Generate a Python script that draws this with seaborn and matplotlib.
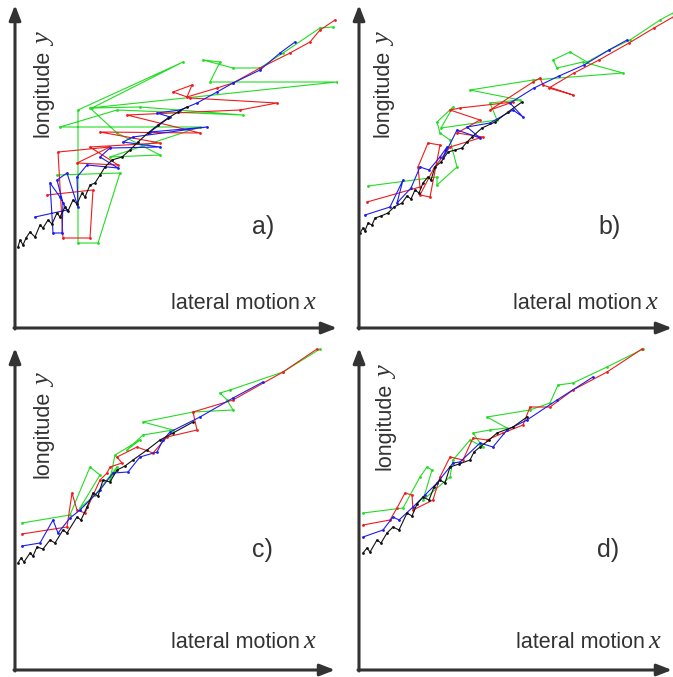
import pandas as pd
import matplotlib
matplotlib.use('Agg')
import matplotlib.pyplot as plt
import seaborn as sns

sns.set_style('white')
plt.rcParams['font.family'] = ['Liberation Sans', 'DejaVu Sans']

# trajectories, (lateral x, longitude y) per point
a_black = [(3, 81), (5, 88), (8, 83), (11, 90), (15, 96), (20, 91), (25, 103), (28, 100), (33, 108), (37, 104),
           (42, 115), (45, 111), (50, 121), (53, 117), (58, 128), (62, 124), (67, 135), (70, 131), (75, 143),
           (80, 145), (85, 153), (90, 161), (97, 168), (107, 171), (115, 178), (123, 186), (133, 195),
           (143, 203), (153, 210), (163, 216), (172, 221)]
a_blue = [(20, 111), (52, 118), (45, 131), (35, 145), (38, 95), (47, 95), (48, 125), (42, 148), (52, 155),
          (63, 121), (62, 151), (72, 163), (103, 160), (85, 171), (95, 180), (145, 181), (108, 186), (118, 191),
          (192, 201), (135, 196), (155, 211), (142, 215), (165, 218), (182, 225), (202, 236), (218, 245),
          (245, 258), (265, 275), (280, 286)]
a_red = [(32, 133), (78, 138), (75, 90), (48, 90), (43, 176), (95, 181), (62, 165), (103, 163), (75, 181),
         (145, 185), (85, 196), (185, 195), (112, 213), (225, 218), (262, 225), (175, 230), (158, 236),
         (177, 243), (172, 231), (202, 240), (218, 245), (245, 260), (275, 275), (295, 286), (305, 298),
         (320, 308)]
a_green = [(42, 153), (105, 155), (83, 85), (63, 85), (63, 218), (168, 266), (77, 220), (125, 221), (228, 213),
           (102, 218), (45, 201), (185, 201), (95, 171), (145, 173), (102, 195), (75, 220), (322, 246),
           (195, 246), (205, 266), (188, 268), (218, 260), (245, 260), (268, 275), (305, 300), (318, 301)]

b_black = [(1, 95), (4, 100), (6, 97), (9, 105), (13, 103), (16, 110), (22, 112), (29, 115), (35, 121),
           (43, 125), (48, 132), (52, 129), (56, 138), (60, 135), (64, 145), (69, 151), (72, 148), (76, 161),
           (82, 166), (89, 176), (96, 178), (103, 180), (108, 186), (113, 191), (123, 200), (136, 206),
           (149, 216), (163, 226)]
b_blue = [(6, 113), (31, 121), (44, 148), (38, 125), (52, 140), (61, 161), (70, 158), (81, 171), (88, 181),
          (84, 170), (98, 198), (121, 190), (108, 201), (131, 205), (154, 218), (164, 211), (151, 225),
          (175, 240), (200, 252), (225, 263), (250, 278), (268, 288)]
b_red = [(8, 126), (61, 141), (59, 161), (69, 185), (81, 183), (71, 131), (61, 133), (75, 160), (91, 181),
         (124, 191), (98, 195), (121, 208), (91, 218), (101, 220), (154, 226), (131, 218), (174, 246),
         (181, 250), (184, 243), (214, 233), (190, 240), (215, 255), (240, 268), (270, 285), (295, 300),
         (314, 311)]
b_green = [(9, 142), (78, 151), (78, 143), (98, 161), (91, 188), (81, 195), (78, 206), (94, 221), (82, 200),
           (138, 208), (131, 225), (161, 228), (111, 238), (174, 248), (264, 255), (224, 266), (198, 260),
           (194, 268), (211, 276), (228, 266), (250, 278), (271, 288), (301, 308), (314, 315)]

c_black = [(3, 107), (6, 112), (9, 108), (15, 117), (18, 114), (22, 123), (28, 121), (35, 130), (40, 127),
           (48, 140), (52, 137), (62, 153), (66, 150), (72, 163), (78, 177), (83, 174), (88, 190), (95, 188),
           (102, 200), (110, 204), (118, 210), (132, 220), (145, 230), (158, 237), (178, 248)]
c_blue = [(7, 124), (25, 127), (38, 150), (43, 137), (55, 152), (65, 160), (85, 180), (98, 197), (113, 198),
          (125, 213), (142, 218), (148, 230), (155, 238), (185, 253), (218, 272), (248, 288)]
c_red = [(7, 136), (52, 143), (57, 177), (62, 160), (70, 157), (85, 190), (92, 197), (95, 203), (107, 207),
         (102, 213), (122, 223), (138, 217), (152, 233), (182, 240), (178, 258), (218, 270), (268, 298),
         (302, 321)]
c_green = [(7, 147), (55, 155), (75, 203), (85, 195), (65, 162), (80, 175), (102, 203), (95, 190), (100, 215),
           (125, 230), (112, 220), (128, 235), (158, 240), (128, 248), (178, 258), (218, 260), (212, 270),
           (205, 277), (215, 280), (268, 298), (305, 321)]

d_black = [(4, 117), (8, 122), (11, 118), (18, 130), (22, 127), (28, 137), (34, 143), (40, 140), (48, 157),
           (53, 154), (58, 166), (64, 173), (70, 170), (75, 183), (81, 190), (86, 187), (91, 203), (100, 206),
           (111, 210), (115, 218), (121, 223), (130, 230), (138, 237), (154, 243), (168, 253)]
d_blue = [(4, 133), (24, 140), (34, 153), (40, 150), (54, 163), (66, 175), (78, 187), (94, 207), (101, 208),
          (121, 227), (134, 223), (148, 240), (168, 250), (198, 270), (234, 293)]
d_red = [(4, 145), (31, 150), (38, 162), (46, 177), (53, 175), (54, 160), (74, 170), (81, 193), (91, 213),
         (104, 210), (114, 232), (128, 230), (144, 237), (164, 245), (171, 263), (191, 263), (214, 280),
         (248, 298), (283, 321)]
d_green = [(4, 157), (44, 162), (61, 193), (68, 203), (73, 200), (64, 170), (91, 193), (94, 210), (111, 230),
           (124, 223), (114, 237), (131, 240), (148, 242), (128, 253), (171, 260), (191, 267), (199, 285),
           (214, 287), (248, 303), (284, 321)]

panel_tags = ['a)', 'b)', 'c)', 'd)']
panel_tracks = [
    {'green': a_green, 'red': a_red, 'blue': a_blue, 'black': a_black},
    {'green': b_green, 'red': b_red, 'blue': b_blue, 'black': b_black},
    {'green': c_green, 'red': c_red, 'blue': c_blue, 'black': c_black},
    {'green': d_green, 'red': d_red, 'blue': d_blue, 'black': d_black},
]

colors = {'green': '#22dd22', 'red': '#ee1c1c', 'blue': '#1c1cee', 'black': '#111111'}
ink = '#333333'

W, H = 673, 677
# origin (px from left, px from top), width, height of each panel
boxes = [(15, 328, 322, 323), (359, 328, 313, 323), (15, 670, 320, 322), (359, 670, 313, 322)]
# label positions: (xlab end, xlab baseline, ylab x, ylab start, tag x, tag y)
spots = [(285, 19, 28, 191, 237, 101), (283, 19, 24, 191, 239, 101),
         (285, 22, 28, 192, 237, 120), (286, 22, 26, 200, 238, 120)]

fig = plt.figure(figsize=(W / 100, H / 100), dpi=100)

for tag, tracks, (ox, oy, w, h), (xe, xb, yx, ys, tx, ty) in zip(panel_tags, panel_tracks, boxes, spots):
    ax = fig.add_axes([ox / W, (H - oy) / H, w / W, h / H])
    rows = []
    for name, pts in tracks.items():
        for i, (x, y) in enumerate(pts):
            rows.append({'track': name, 'step': i, 'x': x, 'y': y})
    df = pd.DataFrame(rows)
    sns.lineplot(data=df, x='x', y='y', hue='track', hue_order=list(tracks.keys()),
                 palette=colors, sort=False, estimator=None, legend=False, ax=ax,
                 linewidth=0.8, marker='o', markersize=2, markeredgewidth=0)
    ax.set_xlim(0, w)
    ax.set_ylim(0, h)
    ax.axis('off')

    arrow = dict(arrowstyle='-|>,head_length=0.9,head_width=0.35', color=ink, lw=2.2,
                 shrinkA=0, shrinkB=0)
    ax.annotate('', xy=(w, 0), xytext=(-1, 0), arrowprops=arrow, annotation_clip=False)
    ax.annotate('', xy=(0, h), xytext=(0, -1), arrowprops=arrow, annotation_clip=False)

    ax.text(xe, xb, 'lateral motion', ha='right', va='baseline', fontsize=15.5, color=ink)
    ax.text(xe + 3, xb, 'x', ha='left', va='baseline', fontsize=19, color=ink,
            family='Liberation Serif', style='italic')
    ax.text(yx, ys, 'longitude', rotation=90, ha='center', va='bottom', fontsize=15.5, color=ink)
    ax.text(yx + 2, ys + 91, 'y', rotation=90, ha='center', va='bottom', fontsize=19, color=ink,
            family='Liberation Serif', style='italic')
    ax.text(tx, ty, tag, ha='left', va='center', fontsize=18, color=ink)

fig.savefig('out.png', dpi=100)
